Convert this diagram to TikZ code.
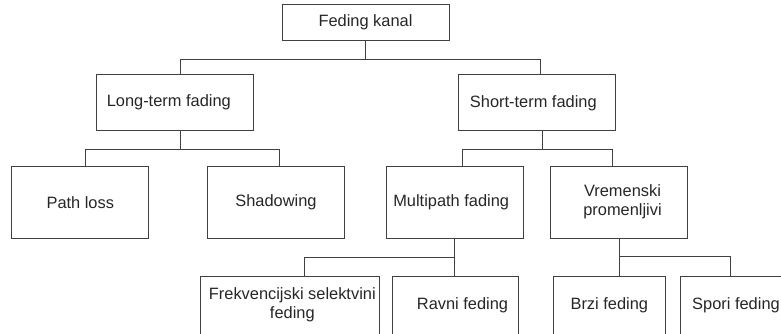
\documentclass[tikz,border=0pt]{standalone}
\usepackage{fontspec}
\setmainfont{Liberation Sans}
\begin{document}
\begin{tikzpicture}[x=1pt,y=-1pt,
  box/.style={draw=black!75,line width=1pt,inner sep=0pt,align=center,text=black!85,
    font=\fontsize{16.4}{19}\selectfont},
  conn/.style={draw=black!75,line width=1pt}]
\useasboundingbox (0,0) rectangle (781,333);
\clip (0,0) rectangle (781,333);
\node[box,minimum width=167pt,minimum height=36pt] (root) at (365.5,22) {Feding kanal};
\node[box,minimum width=156.6pt,minimum height=56pt] (lt) at (175,102.7) {Long-term fading\hspace*{12.4pt}};
\node[box,minimum width=157pt,minimum height=56.3pt] (st) at (536.8,102.8) {Short-term fading\hspace*{7pt}};
\node[box,minimum width=137.3pt,minimum height=72.3pt] (pl) at (80.3,202.2) {Path loss};
\node[box,minimum width=137.4pt,minimum height=72.3pt] (sh) at (276,202.2) {Shadowing};
\node[box,minimum width=137pt,minimum height=72.3pt] (mp) at (455.2,202.2) {Multipath fading\hspace*{8pt}};
\node[box,minimum width=137.4pt,minimum height=72.3pt] (vr) at (619,202.2) {\hspace*{7pt}Vremenski\\\hspace*{7pt}promenljivi};
\node[box,minimum width=179pt,minimum height=58pt] (fs) at (289.8,305) {\hspace*{5pt}Frekvencijski selektvini\\\hspace*{5pt}feding};
\node[box,minimum width=126pt,minimum height=58pt] (rv) at (455.7,305) {\hspace*{13.6pt}Ravni feding};
\node[box,minimum width=112pt,minimum height=58pt] (bz) at (609.3,305) {Brzi feding};
\node[box,minimum width=112pt,minimum height=58pt] (sp) at (736,305) {Spori feding};
% root
\draw[conn] (root.south) -- ++(0,19.3) coordinate (b1);
\draw[conn] ([xshift=5.3pt]lt.north) |- (b1) -| ([xshift=3.2pt]st.north);
% long-term
\draw[conn] ([xshift=5.3pt]lt.south) -- ++(0,18) coordinate (b2);
\draw[conn] ([xshift=5.4pt]pl.north) |- (b2) -| ([xshift=3.3pt]sh.north);
% short-term
\draw[conn] ([xshift=5.5pt]st.south) -- ++(0,17.7) coordinate (b3);
\draw[conn] ([xshift=7.1pt]mp.north) |- (b3) -| ([xshift=-6.7pt]vr.north);
% multipath
\draw[conn] ([xshift=-0.9pt]mp.south) -- ([xshift=-1.4pt]rv.north);
\coordinate (b4) at (454.3,257.7);
\draw[conn] ([xshift=14.5pt]fs.north) |- (b4);
% vremenski
\draw[conn] ([xshift=0.3pt]vr.south) -- ([xshift=10pt]bz.north);
\coordinate (b5) at (619.3,256);
\draw[conn] (b5) -| ([xshift=-6pt]sp.north);
\end{tikzpicture}
\end{document}
